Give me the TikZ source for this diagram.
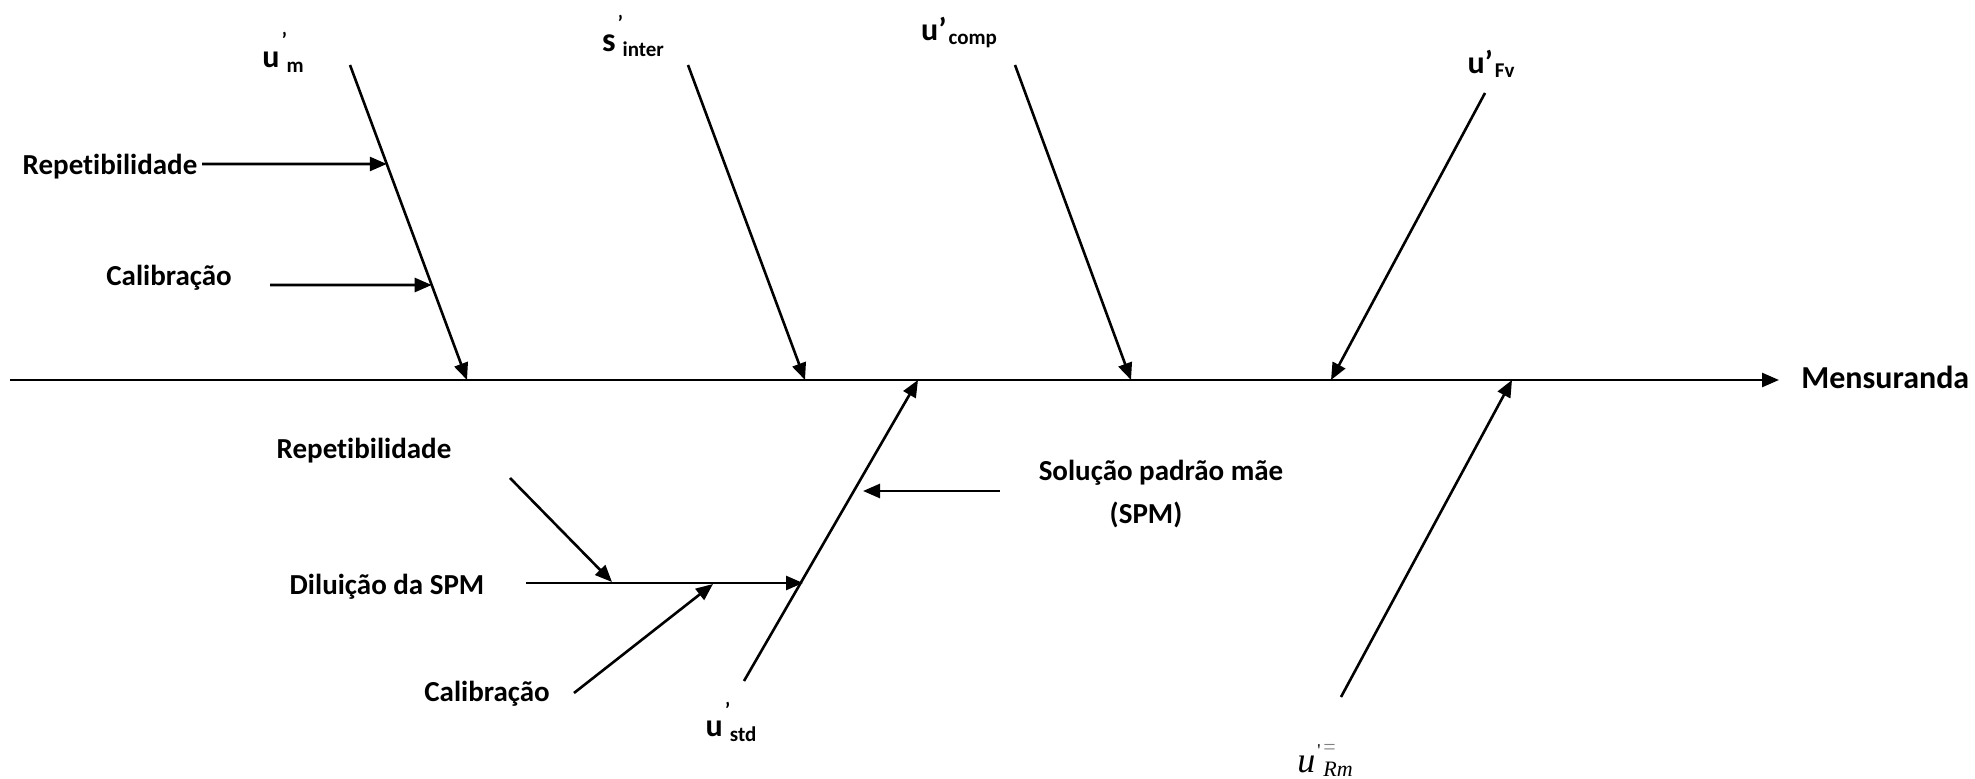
\documentclass[tikz,border=0pt]{standalone}
\usepackage{fontspec}
\setmainfont{Carlito}[RawFeature={-liga}]
\newfontfamily\tms{Liberation Serif}
\usetikzlibrary{arrows.meta}
\newcommand\subsz{\fontsize{10.5}{12}\selectfont}
% u with prime above the subscript
\newcommand\ulabA[2]{#1\kern1pt\rlap{\raisebox{0.62em}{\subsz ’}}\kern2.5pt\raisebox{-2.5pt}{\subsz #2}}
% u’ followed by subscript
\newcommand\ulabB[2]{#1’\kern1pt\raisebox{-2pt}{\subsz #2}}
\begin{document}
\begin{tikzpicture}[x=0.5pt,y=-0.5pt,
  ln/.style={line width=1.3pt},
  arr/.style={ln,-{Triangle[length=8.5pt,width=7pt]}},
  lbl/.style={font=\fontsize{14.5}{17}\selectfont\bfseries, inner sep=0pt},
  big/.style={font=\fontsize{16}{19}\selectfont\bfseries, inner sep=0pt}]
\useasboundingbox (0,0) rectangle (1975,779);

% spine
\coordinate (S0) at (10,380);
\coordinate (S1) at (1779,380);
\node[big,anchor=west] (mens) at (1801,377) {Mensuranda};
\draw[arr] (S0) -- (S1);

% top branches
\coordinate (a0) at (350,65);   \coordinate (A) at (467,380);
\coordinate (b0) at (688,65);   \coordinate (B) at (805,380);
\coordinate (c0) at (1015,65);  \coordinate (C) at (1131,380);
\coordinate (d0) at (1485,93);  \coordinate (D) at (1331,380);
\draw[arr] (a0) -- (A);
\draw[arr] (b0) -- (B);
\draw[arr] (c0) -- (C);
\draw[arr] (d0) -- (D);

\node[lbl] (um) at (283,52) {\ulabA{\fontsize{16}{19}\selectfont u}{m}};
\node[lbl] (sinter) at (633,36) {\ulabA{\fontsize{17}{19}\selectfont s}{inter}};
\node[lbl] (ucomp) at (959,33) {\ulabB{\fontsize{16}{19}\selectfont u}{comp}};
\node[lbl] (ufv) at (1491,64) {\ulabB{\fontsize{16}{19}\selectfont u}{Fv}};

% sub-causes of u'm
\node[lbl] (rep1) at (110,167) {Repetibilidade};
\coordinate (rep1e) at (202,164);
\coordinate (rep1t) at (intersection of a0--A and 0,164--1,164);
\draw[arr] (rep1e) -- (rep1t);
\node[lbl] (cal1) at (169,278) {Calibração};
\coordinate (cal1s) at (270,285);
\coordinate (cal1t) at (intersection of a0--A and 0,285--1,285);
\draw[arr] (cal1s) -- (cal1t);

% bottom branches
\coordinate (e0) at (744,681);  \coordinate (E) at (918,380);
\coordinate (f0) at (1341,697); \coordinate (F) at (1512,380);
\draw[arr] (e0) -- (E);
\draw[arr] (f0) -- (F);

\node[lbl] (ustd) at (731,722) {\ulabA{\fontsize{16}{19}\selectfont u}{std}};
\node[inner sep=0pt] (urm) at (1325,760) {\tms\itshape\fontsize{18}{19}\selectfont u\kern1pt\rlap{\raisebox{8pt}{\upshape\fontsize{9}{10}\selectfont '}}\kern3pt\rlap{\raisebox{9pt}{\upshape\color{gray}\fontsize{11}{12}\selectfont =}}\raisebox{-2pt}{\fontsize{11}{12}\selectfont Rm}};

% SPM
\node[lbl] (spm1) at (1161,473) {Solução padrão mãe};
\node[lbl] (spm2) at (1146,515) {(SPM)};
\coordinate (spms) at (1000,491);
\coordinate (spmt) at (863,491);
\draw[arr] (spms) -- (spmt);

% Diluição
\node[lbl] (dil) at (387,587) {Diluição da SPM};
\coordinate (dils) at (526,583);
\coordinate (dilt) at (803,583);
\draw[arr] (dils) -- (dilt);

\node[lbl] (rep2) at (364,451) {Repetibilidade};
\coordinate (rep2s) at (510,478);
\coordinate (rep2t) at (612,582);
\draw[arr] (rep2s) -- (rep2t);

\node[lbl] (cal2) at (487,694) {Calibração};
\coordinate (cal2s) at (574,693);
\coordinate (cal2t) at (713,584);
\draw[arr] (cal2s) -- (cal2t);
\end{tikzpicture}
\end{document}
